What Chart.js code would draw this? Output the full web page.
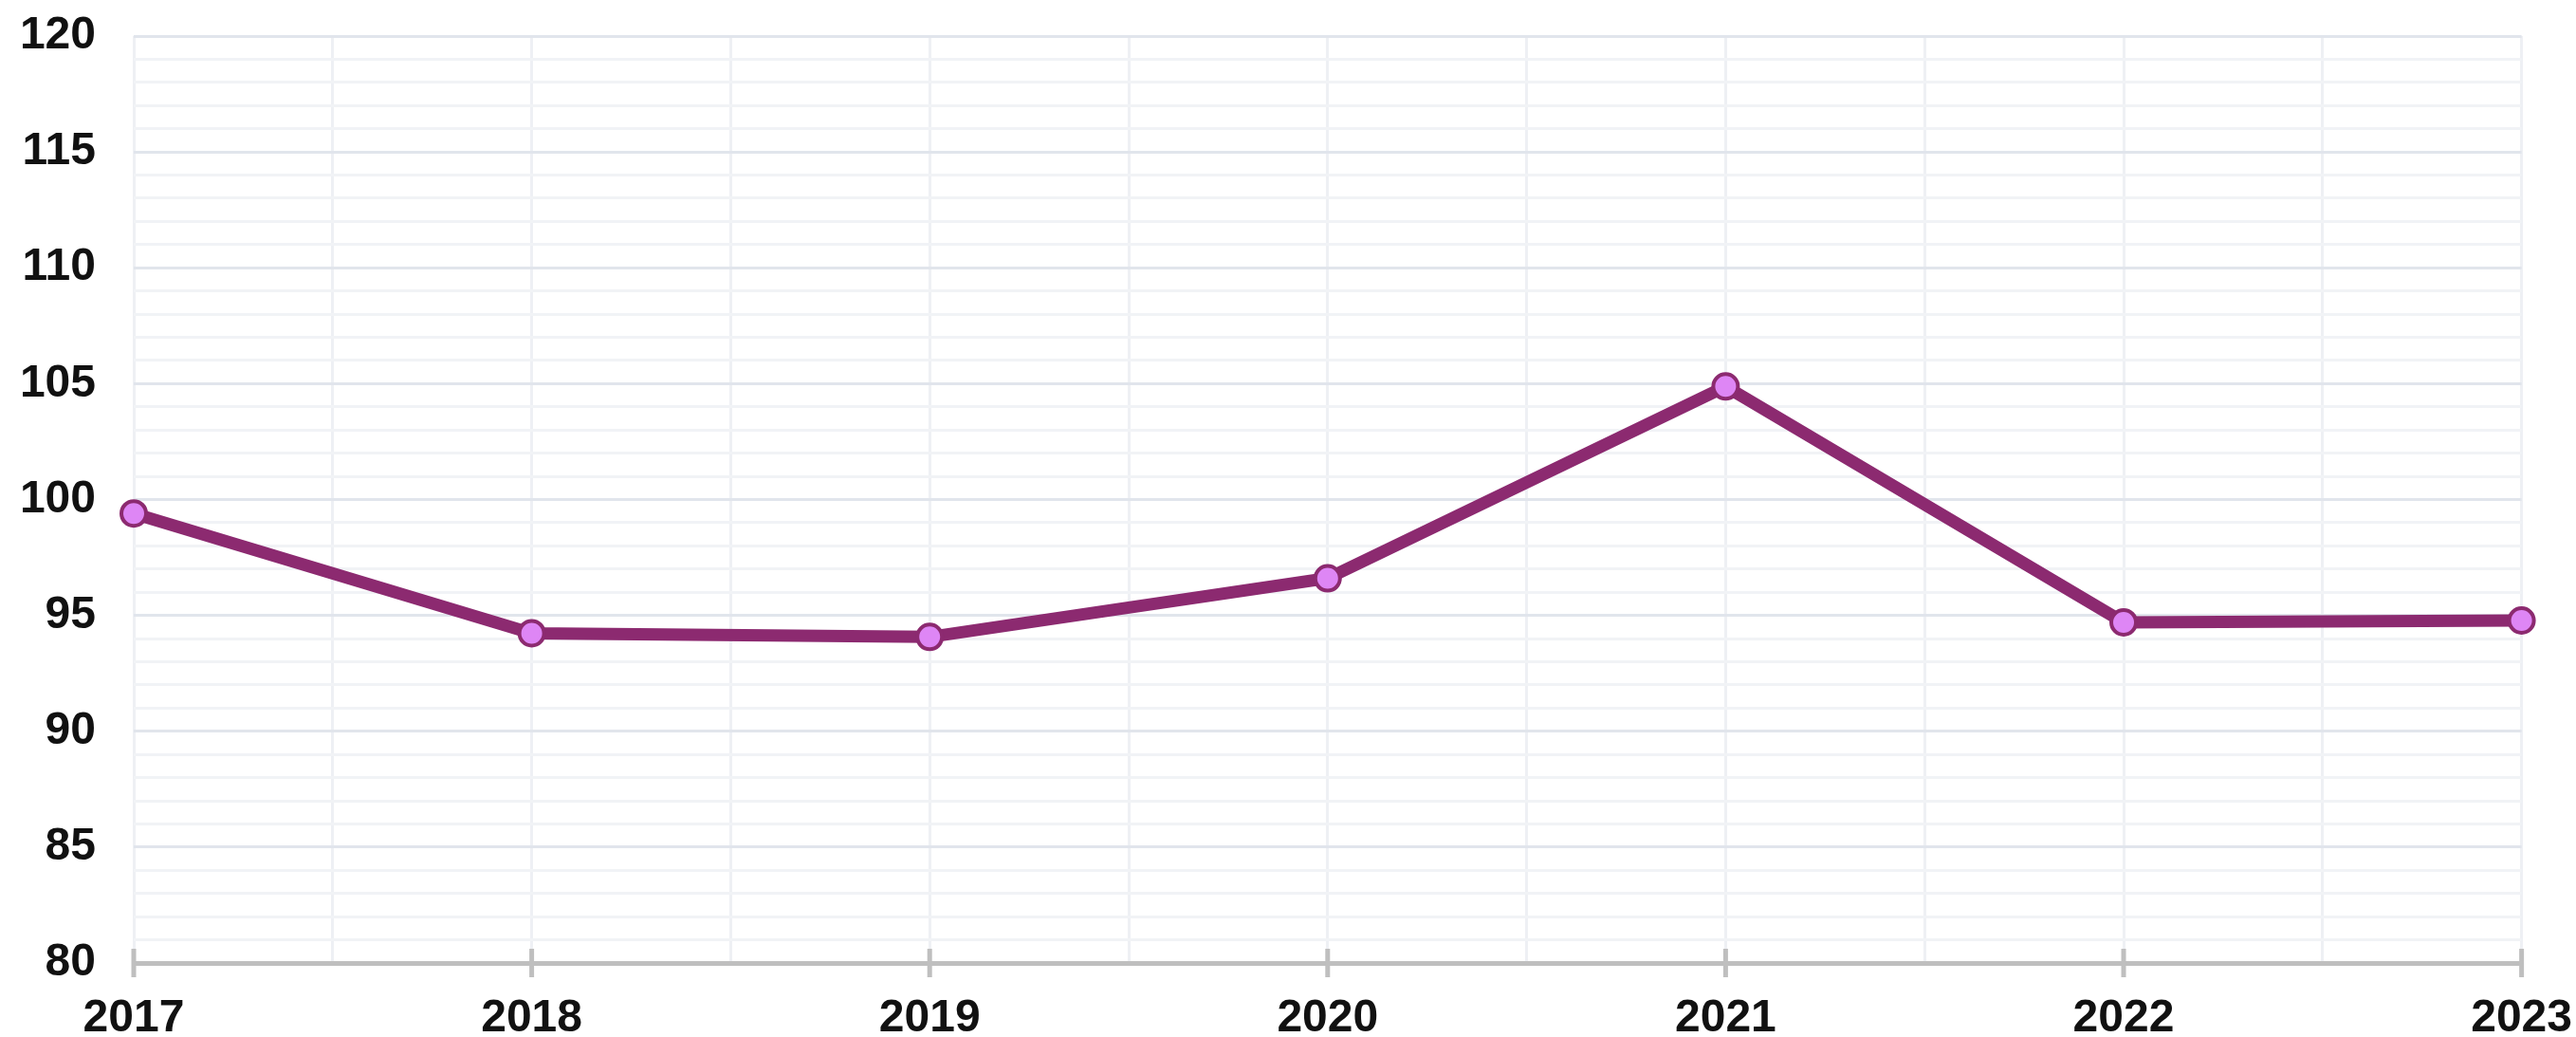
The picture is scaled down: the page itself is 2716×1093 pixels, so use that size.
<!DOCTYPE html>
<html>
<head>
  <meta charset="utf-8">
  <title>Index chart</title>
  <script src="https://cdn.jsdelivr.net/npm/chart.js"></script>
  <style>
    html, body { margin: 0; padding: 0; background: #fff; }
    #chart-wrap { width: 2716px; height: 1093px; }
  </style>
</head>
<body>
<div id="chart-wrap"><canvas id="index-chart"></canvas></div>

<script>
// values
var years = [2017, 2018, 2019, 2020, 2021, 2022, 2023];
var values = [99.4, 94.23, 94.07, 96.6, 104.88, 94.7, 94.78];
var yMin = 80, yMax = 120, yLabelStep = 5;

var points = years.map(function (yr, i) { return { x: yr, y: values[i] }; });

// grey tick marks crossing the x axis line at each year
var yearTicks = {
  id: 'yearTicks',
  beforeDatasetsDraw: function (chart) {
    var xs = chart.scales.x, c = chart.ctx, base = chart.chartArea.bottom;
    c.save();
    c.strokeStyle = '#bfbfbf';
    c.lineWidth = 5;
    years.forEach(function (yr) {
      var px = xs.getPixelForValue(yr);
      c.beginPath();
      c.moveTo(px, base - 15);
      c.lineTo(px, base + 15);
      c.stroke();
    });
    c.restore();
  }
};

var ctx = document.getElementById('index-chart').getContext('2d');
var tickFont = { family: 'Liberation Sans, Arial, sans-serif', size: 48, weight: 'bold' };

var chart = new Chart(ctx, {
  type: 'line',
  data: {
    datasets: [{
      data: points,
      borderColor: '#8c2a70',
      borderWidth: 13,
      pointRadius: 13,
      pointHoverRadius: 13,
      pointBackgroundColor: '#de86f5',
      pointBorderColor: '#8c2a70',
      pointBorderWidth: 4,
      tension: 0,
      clip: false
    }]
  },
  options: {
    responsive: true,
    maintainAspectRatio: false,
    animation: false,
    layout: { padding: { top: 38, right: 0, left: 0, bottom: 0 } },
    plugins: { legend: { display: false }, tooltip: { enabled: false } },
    scales: {
      x: {
        type: 'linear',
        min: years[0],
        max: years[years.length - 1],
        afterFit: function (s) { s.height = 78; },
        ticks: {
          stepSize: 0.5,
          autoSkip: false,
          maxRotation: 0,
          padding: 4,
          color: '#111',
          font: tickFont,
          callback: function (v) { return v % 1 === 0 ? String(v) : ''; }
        },
        grid: {
          color: '#eef0f4',
          lineWidth: 3,
          tickLength: 26,
          tickColor: 'rgba(0,0,0,0)'
        },
        border: { display: true, color: '#bfbfbf', width: 5 }
      },
      y: {
        min: yMin,
        max: yMax,
        afterFit: function (s) { s.width = 141; },
        ticks: {
          stepSize: 1,
          autoSkip: false,
          padding: 0,
          color: '#111',
          font: tickFont,
          callback: function (v) { return v % yLabelStep === 0 ? String(v) : ''; }
        },
        grid: {
          drawTicks: true,
          tickLength: 40,
          tickColor: 'rgba(0,0,0,0)',
          lineWidth: 3,
          color: function (c) { return c.tick && c.tick.value % yLabelStep === 0 ? '#e1e5ec' : '#f1f3f6'; }
        },
        border: { display: false }
      }
    }
  },
  plugins: [yearTicks]
});
</script>
</body>
</html>
